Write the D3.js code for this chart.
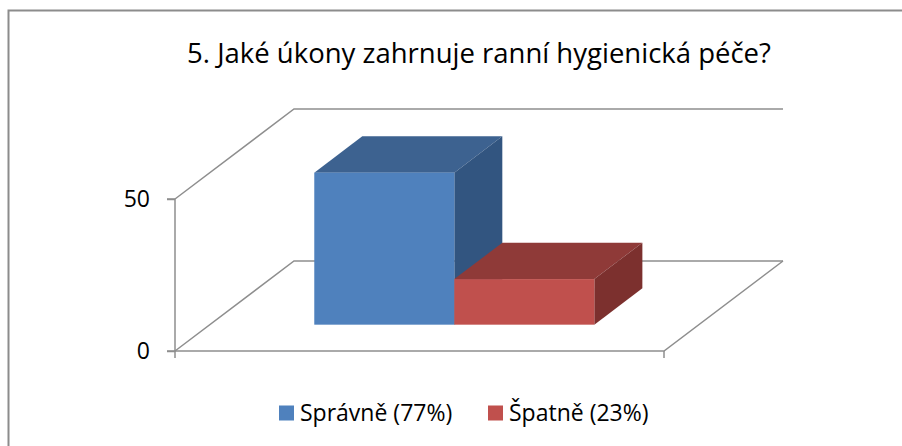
<!DOCTYPE html>
<html lang="cs">
<head>
<meta charset="utf-8">
<title>Ranní hygienická péče</title>
<script src="https://d3js.org/d3.v7.min.js"></script>
<style>
  body { margin: 0; background: #fff; }
  svg { display: block; }
</style>
</head>
<body>
<svg id="chart" width="902" height="446"></svg>
<script>
// data
var categories = ['Správně', 'Špatně'];
var values = [50, 15];
var legendLabels = ['Správně (77%)', 'Špatně (23%)'];
var yTicks = [0, 50];
var title = '5. Jaké úkony zahrnuje ranní hygienická péče?';

var font = 'Open Sans, Liberation Sans, sans-serif';
var front = ['#4f81bd', '#c0504d'];
var top_ = ['#3d6290', '#8f3a38'];
var side = ['#325580', '#7c302e'];
var gridColor = '#8e8e8e';

var svg = d3.select('#chart');

// border
svg.append('rect')
    .attr('x', 8.5).attr('y', 10.5)
    .attr('width', 910).attr('height', 460)
    .attr('fill', 'none').attr('stroke', '#8c8c8c').attr('stroke-width', 2);

// 3d projection: depth offset for the whole floor
var depthX = 119, depthY = -90;
var x = d3.scaleBand().domain(categories).range([175, 664])
    .paddingInner(0).paddingOuter(0.746);
var y = d3.scaleLinear().domain([0, 50]).range([351, 199]);
var zFront = 0.2925, zBack = 0.696;

function pt(px, py, z) { return [px + depthX * z, py + depthY * z]; }
var line = d3.line();

var grid = svg.append('g').attr('fill', 'none')
    .attr('stroke', gridColor).attr('stroke-width', 1.5);

// wall gridlines
yTicks.forEach(function (t) {
    grid.append('path').attr('d', line([
        pt(175, y(t), 0), pt(175, y(t), 1), pt(664, y(t), 1)
    ]));
});
// floor front and right edge
grid.append('path').attr('d', line([
    pt(175, y(0), 0), pt(664, y(0), 0), pt(664, y(0), 1)
]));

// value axis
var axis = svg.append('g').attr('transform', 'translate(175,0)')
    .call(d3.axisLeft(y).tickValues(yTicks).tickSize(8).tickPadding(17));
axis.selectAll('path, line').attr('stroke', gridColor).attr('stroke-width', 1.5);
axis.select('.domain').attr('d', 'M-8,' + y(50) + 'H0V' + y(0) + 'H-8');
axis.selectAll('text').attr('font-family', font).attr('font-size', 23)
    .attr('fill', '#000');

// category axis tick marks
svg.append('g').selectAll('line').data([175, 664]).join('line')
    .attr('x1', function (d) { return d; }).attr('x2', function (d) { return d; })
    .attr('y1', y(0)).attr('y2', y(0) + 7)
    .attr('stroke', gridColor).attr('stroke-width', 1.5);

// bars
var bars = svg.append('g');
categories.forEach(function (c, i) {
    var x0 = x(c), x1 = x(c) + x.bandwidth();
    var yb = y(0), yt = y(values[i]);
    // top
    bars.append('path').attr('fill', top_[i]).attr('d', line([
        pt(x0, yt, zFront), pt(x1, yt, zFront), pt(x1, yt, zBack), pt(x0, yt, zBack)
    ]) + 'Z');
    // right side
    bars.append('path').attr('fill', side[i]).attr('d', line([
        pt(x1, yt, zFront), pt(x1, yb, zFront), pt(x1, yb, zBack), pt(x1, yt, zBack)
    ]) + 'Z');
    // front
    var p = pt(x0, yt, zFront);
    bars.append('rect').attr('fill', front[i])
        .attr('x', p[0]).attr('y', p[1])
        .attr('width', x.bandwidth()).attr('height', yb - yt);
});

// title
svg.append('text')
    .attr('x', 479).attr('y', 63)
    .attr('text-anchor', 'middle')
    .attr('font-family', font).attr('font-size', 27.5)
    .attr('fill', '#000')
    .text(title);

// legend
var legendX = [279, 488];
var legend = svg.append('g');
legendLabels.forEach(function (l, i) {
    legend.append('rect').attr('x', legendX[i]).attr('y', 405.5)
        .attr('width', 15).attr('height', 15).attr('fill', front[i]);
    legend.append('text').attr('x', legendX[i] + 21).attr('y', 421)
        .attr('font-family', font).attr('font-size', 23).attr('fill', '#000')
        .text(l);
});
</script>
</body>
</html>
